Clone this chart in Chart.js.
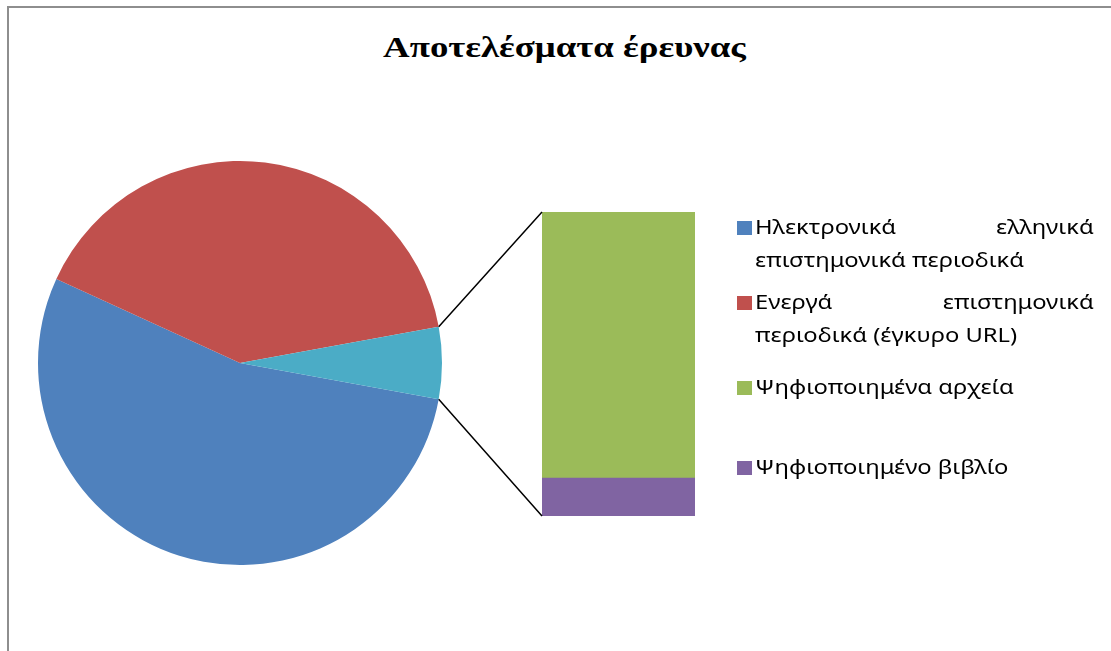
<!DOCTYPE html>
<html>
<head>
<meta charset="utf-8">
<script src="https://cdn.jsdelivr.net/npm/chart.js@4.4.0/dist/chart.umd.min.js"></script>
<style>
    html, body { margin: 0; padding: 0; background: #fff; }
    #wrap { position: relative; width: 1111px; height: 651px; overflow: hidden; }
    #frame { position: absolute; left: 7px; top: 6px; width: 1200px; height: 700px;
             border-top: 2px solid #8e8e8e; border-left: 2px solid #8e8e8e; }
    canvas { position: absolute; left: 0; top: 0; }
    #title { position: absolute; left: 0; width: 1129px; top: 31px; text-align: center;
             font: bold 29px "Liberation Serif", "Times New Roman", serif; color: #000;
             transform: scaleX(1.27); transform-origin: 564.5px 0; }
    .item { position: absolute; left: 737px; width: 357px; font: 19px "Noto Sans", sans-serif;
            line-height: 33px; color: #000; }
    .item .key { position: absolute; left: 0; width: 15px; height: 14px; }
    .item .ln { margin-left: 18px; width: 271px; white-space: nowrap;
                transform: scaleX(1.25); transform-origin: 0 0; }
    .item .ln.just { text-align: justify; text-align-last: justify; white-space: normal; }
</style>
</head>
<body>
<div id="wrap">
    <div id="frame"></div>
    <div id="title">Αποτελέσματα έρευνας</div>
    <canvas id="pieChart" width="1111" height="651"></canvas>
    <canvas id="barChart" width="1111" height="651"></canvas>
    <div id="legend"></div>
</div>
<script>
// data; last two items are split off into the bar
const labels = ['Ηλεκτρονικά ελληνικά\nεπιστημονικά περιοδικά', 'Ενεργά επιστημονικά\nπεριοδικά (έγκυρο URL)', 'Ψηφιοποιημένα αρχεία', 'Ψηφιοποιημένο βιβλίο'];
const values = [75, 56, 7, 1];
const colors = ['#4f81bd', '#c0504d', '#9bbb59', '#8064a2'];
const otherColor = '#4bacc6';
const splitAt = 2;

const mainValues = values.slice(0, splitAt);
const otherValues = values.slice(splitAt);
const otherTotal = otherValues.reduce((a, b) => a + b, 0);
const total = values.reduce((a, b) => a + b, 0);
const otherDeg = otherTotal / total * 360;

Chart.defaults.animation = false;

const pie = new Chart(document.getElementById('pieChart'), {
    type: 'pie',
    data: {
        labels: labels.slice(0, splitAt).concat(['Other']),
        datasets: [{
            data: mainValues.concat([otherTotal]),
            backgroundColor: colors.slice(0, splitAt).concat([otherColor]),
            borderWidth: 0
        }]
    },
    options: {
        responsive: false,
        devicePixelRatio: 1,
        rotation: 90 + otherDeg / 2,
        layout: {padding: {left: 38, top: 161, right: 669, bottom: 86}},
        plugins: {legend: {display: false}, tooltip: {enabled: false}}
    }
});

// connector lines from the "other" slice to the bar
const connectors = {
    id: 'connectors',
    afterDatasetsDraw(chart) {
        const arc = pie.getDatasetMeta(0).data[splitAt];
        const n = chart.data.datasets.length;
        const top = chart.getDatasetMeta(n - 1).data[0];
        const bottom = chart.getDatasetMeta(0).data[0];
        const left = top.x - top.width / 2;
        const r = arc.outerRadius;
        const ctx = chart.ctx;
        ctx.save();
        ctx.strokeStyle = '#000';
        ctx.lineWidth = 1.5;
        ctx.beginPath();
        ctx.moveTo(arc.x + r * Math.cos(arc.startAngle), arc.y + r * Math.sin(arc.startAngle));
        ctx.lineTo(left, top.y);
        ctx.moveTo(arc.x + r * Math.cos(arc.endAngle), arc.y + r * Math.sin(arc.endAngle));
        ctx.lineTo(left, bottom.base);
        ctx.stroke();
        ctx.restore();
    }
};

// stacked bar: the last item sits at the bottom
const barSets = [];
for (let i = otherValues.length - 1; i >= 0; i--) {
    barSets.push({
        label: labels[splitAt + i],
        data: [otherValues[i]],
        backgroundColor: colors[splitAt + i],
        borderWidth: 0,
        barPercentage: 1,
        categoryPercentage: 1
    });
}

new Chart(document.getElementById('barChart'), {
    type: 'bar',
    data: {labels: ['Other'], datasets: barSets},
    options: {
        responsive: false,
        devicePixelRatio: 1,
        layout: {padding: {left: 542, top: 212, right: 416, bottom: 135}},
        scales: {
            x: {stacked: true, display: false},
            y: {stacked: true, display: false, min: 0, max: otherTotal}
        },
        plugins: {legend: {display: false}, tooltip: {enabled: false}}
    },
    plugins: [connectors]
});

// legend
const legendTops = [211, 286, 371, 451];
const legend = document.getElementById('legend');
labels.forEach((lab, i) => {
    const item = document.createElement('div');
    item.className = 'item';
    item.style.top = legendTops[i] + 'px';
    const key = document.createElement('div');
    key.className = 'key';
    key.style.background = colors[i];
    key.style.top = '10px';
    item.appendChild(key);
    const lines = lab.split('\n');
    lines.forEach((t, j) => {
        const ln = document.createElement('div');
        ln.className = 'ln' + (j < lines.length - 1 ? ' just' : '');
        ln.textContent = t;
        item.appendChild(ln);
    });
    legend.appendChild(item);
});
</script>
</body>
</html>
